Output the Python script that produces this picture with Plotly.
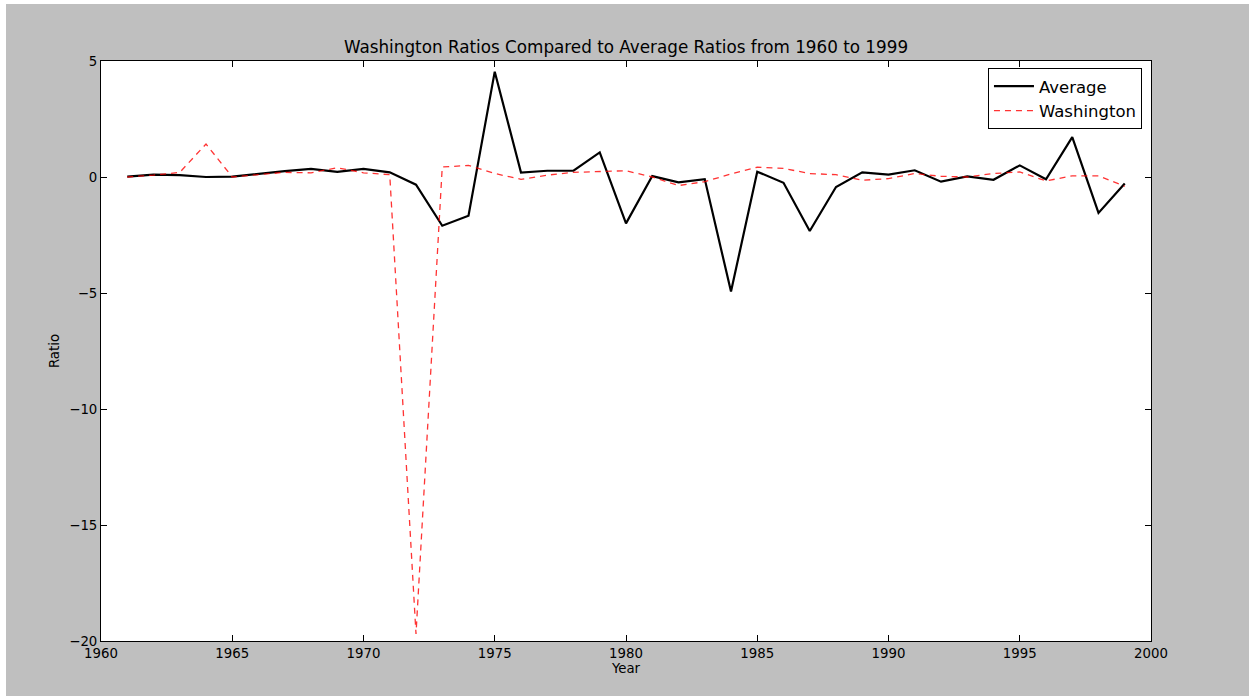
import plotly.graph_objects as go

years = list(range(1961, 2000))
average = [0.02, 0.1, 0.08, 0.0, 0.02, 0.15, 0.25, 0.35, 0.22, 0.35,
           0.2, -0.33, -2.1, -1.67, 4.54, 0.19, 0.27, 0.27, 1.06, -2.0,
           0.04, -0.23, -0.09, -4.94, 0.23, -0.25, -2.33, -0.43, 0.2, 0.1,
           0.29, -0.2, 0.03, -0.12, 0.5, -0.1, 1.72, -1.55, -0.28]
washington = [0.0, 0.08, 0.2, 1.42, 0.0, 0.1, 0.2, 0.18, 0.4, 0.18,
              0.1, -19.7, 0.43, 0.5, 0.15, -0.1, 0.08, 0.2, 0.22, 0.27,
              0.0, -0.37, -0.2, 0.13, 0.42, 0.37, 0.15, 0.1, -0.14, -0.07,
              0.15, 0.03, 0.0, 0.15, 0.22, -0.17, 0.05, 0.05, -0.4]

x_ticks = [1960, 1965, 1970, 1975, 1980, 1985, 1990, 1995, 2000]
y_ticks = [5, 0, -5, -10, -15, -20]

fig = go.Figure()
fig.add_trace(go.Scatter(x=years, y=average, mode="lines", name="Average",
                         line=dict(color="black", width=2.2)))
fig.add_trace(go.Scatter(x=years, y=washington, mode="lines", name="Washington",
                         line=dict(color="rgba(255,0,0,0.8)", width=1.3, dash="6px,5px")))

axis_common = dict(showline=True, linecolor="black", linewidth=1, mirror="ticks",
                   ticks="inside", ticklen=6, tickcolor="black", showgrid=False,
                   zeroline=False, tickfont=dict(size=13.3, color="black"))

W, H = 1243, 692
fig.update_layout(
    width=W, height=H,
    paper_bgcolor="#bfbfbf", plot_bgcolor="white",
    font=dict(family="DejaVu Sans", color="black"),
    margin=dict(l=95, r=98, t=57, b=55),
    title=dict(text="Washington Ratios Compared to Average Ratios from 1960 to 1999",
               x=0.5, xanchor="center", xref="paper", y=1 - 43 / H, yanchor="middle",
               font=dict(size=16.8, color="black")),
    xaxis=dict(range=[1960, 2000], tickvals=x_ticks,
               title=dict(text="Year", font=dict(size=13.3), standoff=2),
               **axis_common),
    yaxis=dict(range=[-20, 5], tickvals=y_ticks,
               title=dict(text="Ratio", font=dict(size=13.3), standoff=6),
               **axis_common),
    legend=dict(x=0.9914, y=0.988, xanchor="right", yanchor="top",
                bgcolor="white", bordercolor="black", borderwidth=1,
                font=dict(size=16.5, color="black"), tracegroupgap=0, itemwidth=40),
    showlegend=True,
)

fig.write_html("out.html",
               post_script="document.body.style.margin='4px 0 0 6px';document.body.style.overflow='hidden';")
